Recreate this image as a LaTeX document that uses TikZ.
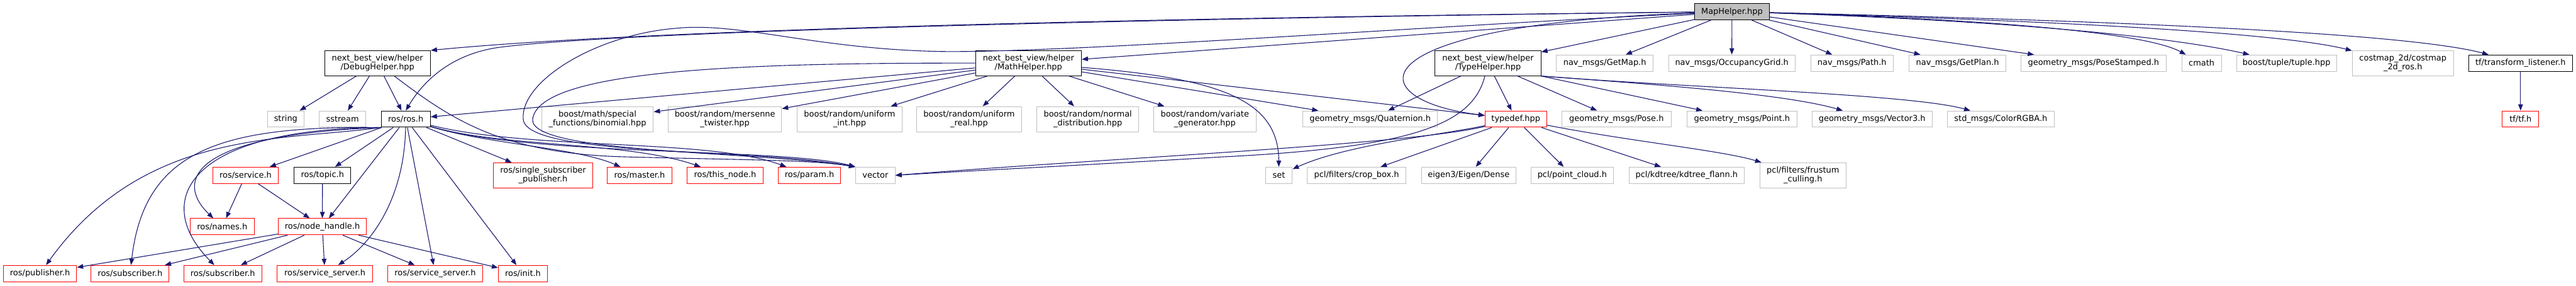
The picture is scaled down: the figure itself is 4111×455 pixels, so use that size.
\documentclass[tikz,border=0pt]{standalone}
\usepackage{fontspec}
\setmainfont{DejaVu Sans}
\usetikzlibrary{arrows.meta}
\definecolor{edgeblue}{HTML}{191970}
\definecolor{boxgray}{HTML}{BFBFBF}

\begin{document}
\begin{tikzpicture}[
  x=1pt, y=-1pt,
  >={Triangle[length=10pt,width=7.5pt]},
  file/.style={draw, line width=1pt, fill=white, inner sep=0pt, minimum height=26pt,
               font=\fontsize{13}{14}\selectfont, align=center},
  twoline/.style={minimum height=40pt},
  main/.style={file, fill=boxgray, draw=black},
  known/.style={file, draw=black},
  trunc/.style={file, draw=red},
  ext/.style={file, draw=boxgray},
  dep/.style={->, draw=edgeblue, line width=1.1pt},
]
\useasboundingbox (0,0) rectangle (4111,455);

% --- Wurzel ---
\node[main, minimum width=118.6pt] (map) at (2764,18.5) {MapHelper.hpp};

% --- Ebene 1 ---
\node[known, twoline, minimum width=169pt] (debug) at (602.4,100.7) {next\_best\_view/helper\\/DebugHelper.hpp};
\node[known, twoline, minimum width=169pt] (math) at (1641.3,100.7) {next\_best\_view/helper\\/MathHelper.hpp};
\node[known, twoline, minimum width=169pt] (type) at (2374.7,100.7) {next\_best\_view/helper\\/TypeHelper.hpp};
\node[ext, minimum width=155pt] (getmap) at (2561,100.5) {nav\_msgs/GetMap.h};
\node[ext, minimum width=202pt] (occ) at (2763.7,100.5) {nav\_msgs/OccupancyGrid.h};
\node[ext, minimum width=131.6pt] (path) at (2955.5,100.5) {nav\_msgs/Path.h};
\node[ext, minimum width=154.5pt] (getplan) at (3124,100.5) {nav\_msgs/GetPlan.h};
\node[ext, minimum width=231.7pt] (posest) at (3341,100.5) {geometry\_msgs/PoseStamped.h};
\node[ext, minimum width=63pt] (cmath) at (3513.4,100.5) {cmath};
\node[ext, minimum width=160pt] (tuple) at (3649,100.5) {boost/tuple/tuple.hpp};
\node[ext, twoline, minimum width=161.6pt] (costmap) at (3834.7,100.7) {costmap\_2d/costmap\\\_2d\_ros.h};
\node[known, minimum width=166pt] (tflist) at (4022.5,100.5) {tf/transform\_listener.h};

% --- Ebene 2 ---
\node[ext, minimum width=58.7pt] (string) at (456,189.7) {string};
\node[ext, minimum width=74pt] (sstream) at (546.6,189.7) {sstream};
\node[known, minimum width=78.5pt] (ros) at (647.6,189.7) {ros/ros.h};
\node[ext, twoline, minimum width=178.5pt] (binom) at (953.5,189.8) {boost/math/special\\\_functions/binomial.hpp};
\node[ext, twoline, minimum width=181pt] (mersenne) at (1156.9,189.8) {boost/random/mersenne\\\_twister.hpp};
\node[ext, twoline, minimum width=167pt] (uint) at (1355.9,189.8) {boost/random/uniform\\\_int.hpp};
\node[ext, twoline, minimum width=167pt] (ureal) at (1546.6,189.8) {boost/random/uniform\\\_real.hpp};
\node[ext, twoline, minimum width=163pt] (normal) at (1736,189.8) {boost/random/normal\\\_distribution.hpp};
\node[ext, twoline, minimum width=163pt] (variate) at (1922.8,189.8) {boost/random/variate\\\_generator.hpp};
\node[ext, minimum width=215pt] (quat) at (2186.6,189.7) {geometry\_msgs/Quaternion.h};
\node[trunc, minimum width=98pt] (typedef) at (2419,189.7) {typedef.hpp};
\node[ext, minimum width=175pt] (pose) at (2579.7,189.7) {geometry\_msgs/Pose.h};
\node[ext, minimum width=176pt] (point) at (2780,189.7) {geometry\_msgs/Point.h};
\node[ext, minimum width=192pt] (vec3) at (2987.6,189.7) {geometry\_msgs/Vector3.h};
\node[ext, minimum width=171pt] (color) at (3193,189.7) {std\_msgs/ColorRGBA.h};
\node[trunc, minimum width=58pt] (tf) at (4022.5,189.7) {tf/tf.h};

% --- Ebene 3 ---
\node[trunc, minimum width=105pt] (service) at (391.9,279.3) {ros/service.h};
\node[known, minimum width=90.6pt] (topic) at (514.7,279.3) {ros/topic.h};
\node[trunc, twoline, minimum width=158pt] (single) at (866.7,279.3) {ros/single\_subscriber\\\_publisher.h};
\node[trunc, minimum width=103pt] (master) at (1020.7,279.3) {ros/master.h};
\node[trunc, minimum width=120.6pt] (thisnode) at (1157.2,279.3) {ros/this\_node.h};
\node[trunc, minimum width=100pt] (param) at (1291.8,279.3) {ros/param.h};
\node[ext, minimum width=63pt] (vector) at (1397,279.3) {vector};
\node[ext, minimum width=42.7pt] (set) at (2041,279.3) {set};
\node[ext, minimum width=157pt] (crop) at (2165,279.3) {pcl/filters/crop\_box.h};
\node[ext, minimum width=150.5pt] (dense) at (2343.8,279.3) {eigen3/Eigen/Dense};
\node[ext, minimum width=131.4pt] (pcloud) at (2509,279.3) {pcl/point\_cloud.h};
\node[ext, minimum width=184pt] (kdtree) at (2691.7,279.3) {pcl/kdtree/kdtree\_flann.h};
\node[ext, twoline, minimum width=137pt] (frustum) at (2877.3,279.3) {pcl/filters/frustum\\\_culling.h};

% --- Ebene 4 und 5 ---
\node[trunc, minimum width=102pt] (names) at (354.6,361.2) {ros/names.h};
\node[trunc, minimum width=141pt] (nodeh) at (514.4,361.2) {ros/node\_handle.h};
\node[trunc, minimum width=117pt] (pub) at (63.8,435.8) {ros/publisher.h};
\node[trunc, minimum width=124.4pt] (subA) at (207.6,435.8) {ros/subscriber.h};
\node[trunc, minimum width=124.4pt] (subB) at (355.5,435.8) {ros/subscriber.h};
\node[trunc, minimum width=151.8pt] (srvA) at (518.5,435.8) {ros/service\_server.h};
\node[trunc, minimum width=151.8pt] (srvB) at (694.5,435.8) {ros/service\_server.h};
\node[trunc, minimum width=78.4pt] (init) at (834.5,435.8) {ros/init.h};

% --- Kanten von MapHelper.hpp ---
\draw[dep] (map) .. controls (1700,30) and (1000,50) .. (debug.north east);
\draw[dep] (map) .. controls (1800,30) and (1000,50) .. (800,75) .. controls (720,85) and (675,130) .. (ros.north);
\draw[dep] (map) -- (math);
\draw[dep] (map) -- (type);
\draw[dep] (map) .. controls (2150,40) and (2170,160) .. (typedef);
\draw[dep] (map) .. controls (2300,40) and (1700,85) .. (1500,82) .. controls (1300,78) and (1180,35) .. (1080,45)
  .. controls (950,55) and (830,130) .. (835,190) .. controls (840,250) and (1200,235) .. (vector.north west);
\draw[dep] (map) -- (getmap);
\draw[dep] (map) -- (occ);
\draw[dep] (map) -- (path);
\draw[dep] (map) -- (getplan);
\draw[dep] (map) -- (posest);
\draw[dep] (map) .. controls (3150,30) and (3420,50) .. (cmath);
\draw[dep] (map) .. controls (3250,35) and (3480,62) .. (tuple);
\draw[dep] (map) .. controls (3350,35) and (3650,55) .. (costmap);
\draw[dep] (map) .. controls (3450,35) and (3850,55) .. (tflist);
\draw[dep] (tflist) -- (tf);

% --- DebugHelper.hpp ---
\draw[dep] (debug) -- (string);
\draw[dep] (debug) -- (sstream);
\draw[dep] (debug) -- (ros);
\draw[dep] (debug) .. controls (720,190) and (800,245) .. (1000,250) .. controls (1200,255) and (1300,255) .. (vector.north west);

% --- MathHelper.hpp ---
\draw[dep] (math) -- (ros);
\draw[dep] (math) .. controls (1200,100) and (860,110) .. (850,190) .. controls (845,245) and (1200,240) .. (vector.north west);
\draw[dep] (math) -- (binom);
\draw[dep] (math) -- (mersenne);
\draw[dep] (math) -- (uint);
\draw[dep] (math) -- (ureal);
\draw[dep] (math) -- (normal);
\draw[dep] (math) -- (variate);
\draw[dep] (math) -- (quat);
\draw[dep] (math) -- (typedef);
\draw[dep] (math) .. controls (1950,125) and (2040,160) .. (set);

% --- TypeHelper.hpp ---
\draw[dep] (type) -- (quat);
\draw[dep] (type) -- (typedef);
\draw[dep] (type) -- (pose);
\draw[dep] (type.south east) -- (point);
\draw[dep] (type.south east) .. controls (2650,135) and (2850,150) .. (vec3);
\draw[dep] (type.south east) .. controls (2700,140) and (3050,150) .. (color);
\draw[dep] (type) .. controls (2350,200) and (2250,235) .. (1950,250) .. controls (1750,262) and (1550,272) .. (vector.east);

% --- typedef.hpp ---
\draw[dep] (typedef) .. controls (2250,230) and (1800,250) .. (vector.east);
\draw[dep] (typedef) .. controls (2300,215) and (2150,230) .. (set);
\draw[dep] (typedef) -- (crop);
\draw[dep] (typedef) -- (dense);
\draw[dep] (typedef) -- (pcloud);
\draw[dep] (typedef) -- (kdtree);
\draw[dep] (typedef) .. controls (2600,225) and (2750,240) .. (frustum);

% --- ros/ros.h ---
\draw[dep] (ros.south west) .. controls (450,225) and (230,205) .. (pub);
\draw[dep] (ros.south west) .. controls (350,200) and (230,240) .. (subA);
\draw[dep] (ros.south west) .. controls (300,205) and (240,320) .. (subB);
\draw[dep] (ros.south west) .. controls (300,215) and (280,290) .. (names);
\draw[dep] (ros) -- (service);
\draw[dep] (ros) -- (topic);
\draw[dep] (ros) -- (nodeh);
\draw[dep] (ros) .. controls (645,320) and (590,390) .. (srvA);
\draw[dep] (ros) -- (srvB);
\draw[dep] (ros) -- (init);
\draw[dep] (ros) -- (single);
\draw[dep] (ros) .. controls (780,230) and (920,235) .. (master);
\draw[dep] (ros) .. controls (800,235) and (1000,225) .. (thisnode);
\draw[dep] (ros) .. controls (850,240) and (1130,220) .. (param);
\draw[dep] (ros) .. controls (850,250) and (1250,235) .. (vector.north west);

% --- service.h, topic.h, node_handle.h ---
\draw[dep] (service) -- (names);
\draw[dep] (service) -- (nodeh);
\draw[dep] (topic) -- (nodeh);
\draw[dep] (nodeh) -- (pub);
\draw[dep] (nodeh) -- (subA);
\draw[dep] (nodeh) -- (subB);
\draw[dep] (nodeh) -- (srvA);
\draw[dep] (nodeh) -- (srvB);
\draw[dep] (nodeh) -- (init);

\end{tikzpicture}
\end{document}
